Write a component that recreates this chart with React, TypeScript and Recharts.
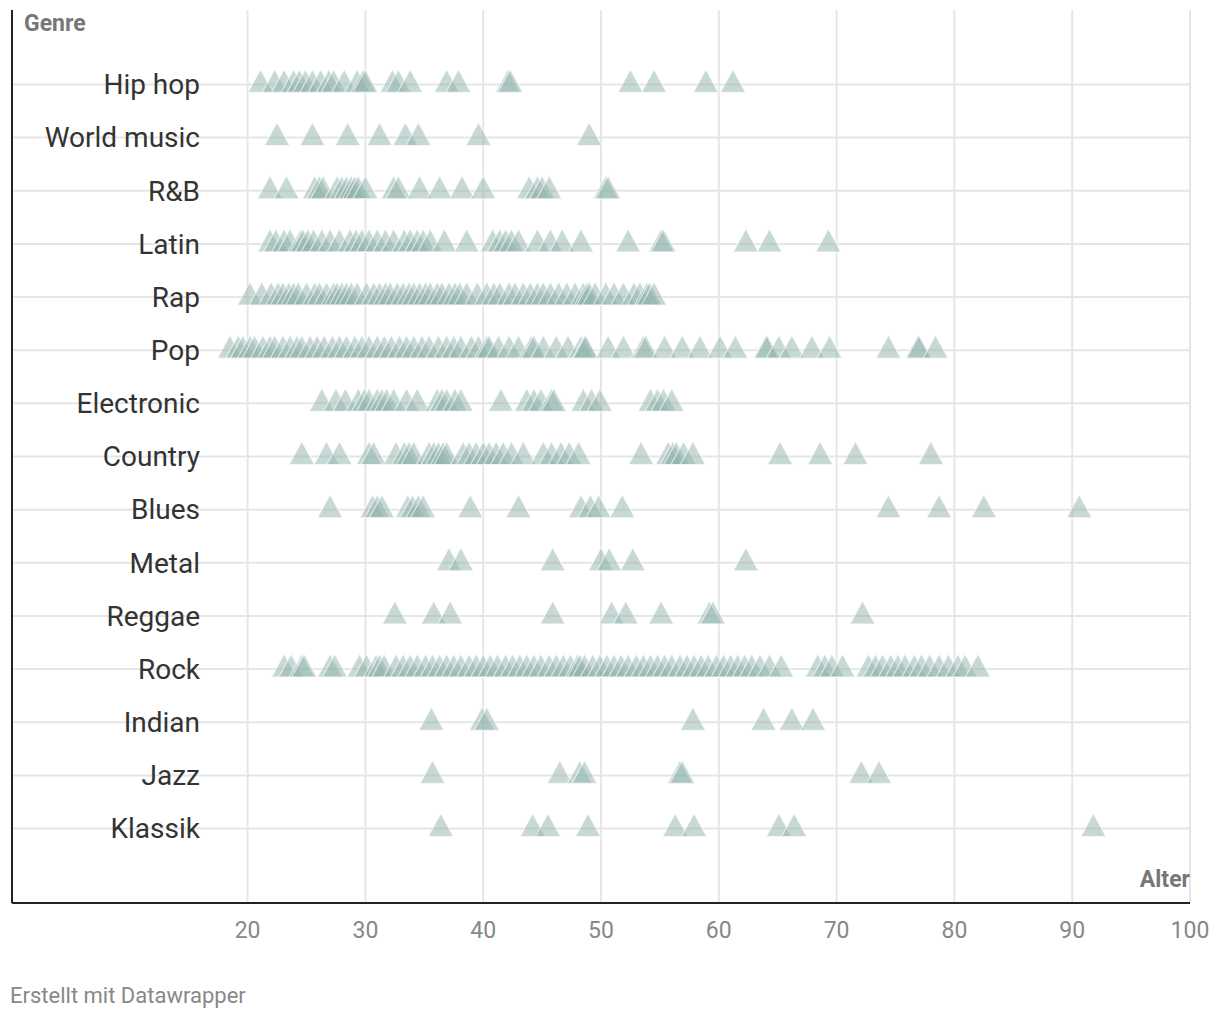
import { ScatterChart, Scatter, XAxis, YAxis, CartesianGrid, ReferenceLine } from "recharts";

// Genres top to bottom, one row each
const genres = [
  "Hip hop", "World music", "R&B", "Latin", "Rap", "Pop", "Electronic", "Country",
  "Blues", "Metal", "Reggae", "Rock", "Indian", "Jazz", "Klassik",
];

// Age values per genre
const hipHop = [21.1, 22.3, 23.1, 23.9, 24.4, 24.9, 25.5, 26.2, 26.9, 27.3, 28.2, 29.3, 29.8, 30.0, 32.3, 32.8, 33.8, 36.9, 37.9, 42.1, 42.3, 52.5, 54.5, 58.9, 61.2];
const worldMusic = [22.5, 25.5, 28.5, 31.2, 33.4, 34.5, 39.6, 49.0];
const rnb = [21.9, 23.3, 25.7, 26.1, 26.4, 27.6, 28.0, 28.4, 28.8, 29.1, 29.4, 30.0, 32.4, 32.8, 34.6, 36.3, 38.2, 40.0, 43.9, 44.6, 45.0, 45.6, 50.4, 50.6];
const latin = [21.9, 22.4, 23.1, 23.6, 24.5, 24.7, 25.1, 25.6, 26.3, 27.0, 27.8, 28.7, 29.2, 29.7, 30.3, 31.0, 31.7, 32.4, 33.3, 33.8, 34.4, 34.9, 35.5, 36.7, 38.6, 40.8, 41.4, 41.9, 42.4, 43.0, 44.6, 45.7, 46.7, 48.3, 52.3, 55.1, 55.3, 62.3, 64.3, 69.3];
const rap = [20.2, 21.2, 22.0, 22.6, 23.0, 23.5, 23.9, 24.3, 25.0, 25.7, 26.1, 26.7, 27.3, 27.6, 28.0, 28.4, 28.8, 29.3, 30.1, 30.7, 31.2, 31.7, 32.1, 32.7, 33.2, 33.7, 34.1, 34.6, 35.1, 35.5, 36.1, 36.5, 37.1, 37.6, 38.0, 38.6, 39.5, 40.3, 40.9, 41.4, 42.2, 42.7, 43.4, 44.0, 44.6, 45.1, 45.7, 46.4, 47.1, 47.8, 48.5, 48.8, 49.0, 49.5, 50.4, 51.1, 51.9, 52.8, 53.3, 53.9, 54.1, 54.5];
const pop = [18.5, 19.2, 19.6, 20.2, 20.6, 21.3, 21.9, 22.3, 23.0, 23.6, 24.2, 24.6, 25.3, 25.9, 26.5, 27.2, 27.8, 28.4, 29.1, 29.7, 30.3, 31.0, 31.6, 32.2, 32.9, 33.5, 34.1, 34.8, 35.4, 36.2, 36.9, 37.5, 38.1, 39.0, 39.6, 40.3, 40.5, 41.3, 42.2, 43.0, 44.1, 44.3, 45.1, 46.2, 47.2, 48.3, 48.6, 48.7, 50.6, 51.9, 53.6, 53.8, 55.4, 56.9, 58.4, 60.1, 61.4, 64.0, 64.1, 65.1, 66.2, 67.9, 69.4, 74.4, 76.9, 77.0, 78.4];
const electronic = [26.3, 27.5, 28.3, 29.4, 29.9, 30.3, 31.0, 31.4, 31.8, 32.4, 33.5, 34.4, 36.1, 36.5, 36.9, 37.6, 38.1, 41.5, 43.7, 44.3, 44.9, 45.8, 46.0, 48.5, 49.2, 49.9, 54.2, 54.8, 55.3, 56.0];
const country = [24.6, 26.7, 27.8, 30.3, 30.7, 32.6, 33.3, 33.7, 34.1, 35.4, 35.8, 36.2, 36.6, 36.9, 38.3, 38.8, 39.4, 40.0, 40.5, 41.1, 41.7, 42.4, 43.4, 45.1, 45.8, 46.6, 47.3, 48.1, 53.4, 55.7, 56.1, 56.4, 57.0, 57.8, 65.2, 68.6, 71.6, 78.0];
const blues = [27.0, 30.6, 31.0, 31.4, 33.6, 34.0, 34.5, 34.9, 38.9, 43.0, 48.3, 49.1, 49.8, 51.8, 74.4, 78.7, 82.5, 90.6];
const metal = [37.1, 38.1, 45.9, 50.0, 50.7, 52.7, 62.3];
const reggae = [32.5, 35.8, 37.2, 45.9, 50.9, 52.1, 55.1, 59.2, 59.5, 72.2];
const rock = [23.1, 23.7, 24.6, 24.8, 27.0, 27.4, 29.5, 30.1, 30.9, 31.2, 31.6, 32.6, 33.2, 33.8, 34.4, 35.1, 35.7, 36.3, 36.9, 37.5, 38.1, 38.8, 39.4, 40.0, 40.6, 41.2, 41.9, 42.5, 43.1, 43.7, 44.3, 44.9, 45.6, 46.2, 46.8, 47.4, 48.0, 48.2, 48.6, 49.3, 49.9, 50.5, 51.1, 51.7, 52.3, 53.0, 53.6, 54.2, 54.8, 55.4, 56.0, 56.7, 57.3, 57.9, 58.5, 59.1, 59.8, 60.4, 61.0, 61.6, 62.2, 62.8, 63.5, 64.3, 65.3, 68.4, 69.0, 69.6, 70.5, 72.7, 73.3, 73.9, 74.6, 75.2, 75.8, 76.6, 77.2, 77.9, 78.7, 79.5, 80.3, 80.9, 82.0];
const indian = [35.6, 39.9, 40.3, 57.8, 63.8, 66.2, 68.0];
const jazz = [35.7, 46.5, 48.2, 48.6, 56.7, 56.9, 72.1, 73.6];
const klassik = [36.4, 44.2, 45.5, 48.9, 56.3, 57.9, 65.1, 66.4, 91.8];

const xTicks = [20, 30, 40, 50, 60, 70, 80, 90, 100];

const valuesByGenre = [hipHop, worldMusic, rnb, latin, rap, pop, electronic, country, blues, metal, reggae, rock, indian, jazz, klassik];
const points = valuesByGenre.flatMap((vals, i) => vals.map((alter) => ({ alter, genre: i })));
const rowTicks = genres.map((_, i) => i);

const Triangle = (props: any) => {
  const { cx, cy } = props;
  if (cx == null || cy == null) return null;
  return (
    <path
      d={`M${cx},${cy - 15} L${cx + 12.5},${cy + 8} L${cx - 12.5},${cy + 8} Z`}
      fill="#8fb2ac"
      fillOpacity={0.5}
      stroke="#ffffff"
      strokeOpacity={0.6}
      strokeWidth={1.2}
    />
  );
};

const GenreTick = (props: any) => {
  const { y, payload } = props;
  return (
    <text x={192} y={y} dy="0.35em" textAnchor="end" fill="#333" fontSize={28}>
      {genres[payload.value]}
    </text>
  );
};

export default function App() {
  return (
    <div style={{ position: "relative", width: 1204, height: 1004, fontFamily: "Roboto, sans-serif" }}>
      <ScatterChart width={1204} height={940} margin={{ top: 2, right: 22, bottom: 5, left: 3 }}>
        <CartesianGrid stroke="#e6e6e6" strokeWidth={2} horizontal={false} />
        {rowTicks.map((i) => (
          <ReferenceLine key={i} y={i} stroke="#e6e6e6" strokeWidth={2} />
        ))}
        <XAxis
          type="number"
          dataKey="alter"
          domain={[0, 100]}
          ticks={xTicks}
          interval={0}
          height={40}
          axisLine={{ stroke: "#222", strokeWidth: 2 }}
          tickLine={false}
          tickSize={6}
          tickMargin={13}
          tick={{ fill: "#888", fontSize: 23 }}
        />
        <YAxis
          type="number"
          dataKey="genre"
          domain={[-1.4, 15.4]}
          reversed
          ticks={rowTicks}
          interval={0}
          width={1}
          axisLine={{ stroke: "#222", strokeWidth: 2 }}
          tickLine={false}
          tick={<GenreTick />}
        />
        <Scatter data={points} shape={<Triangle />} isAnimationActive={false} />
      </ScatterChart>
      <div style={{ position: "absolute", left: 16, top: 3, lineHeight: "26px", fontSize: 23, fontWeight: 700, color: "#777" }}>
        Genre
      </div>
      <div style={{ position: "absolute", right: 22, top: 859, lineHeight: "26px", fontSize: 23, fontWeight: 700, color: "#777" }}>
        Alter
      </div>
      <div style={{ position: "absolute", left: 2, top: 976, lineHeight: "24px", fontSize: 22, color: "#888" }}>
        Erstellt mit Datawrapper
      </div>
    </div>
  );
}
